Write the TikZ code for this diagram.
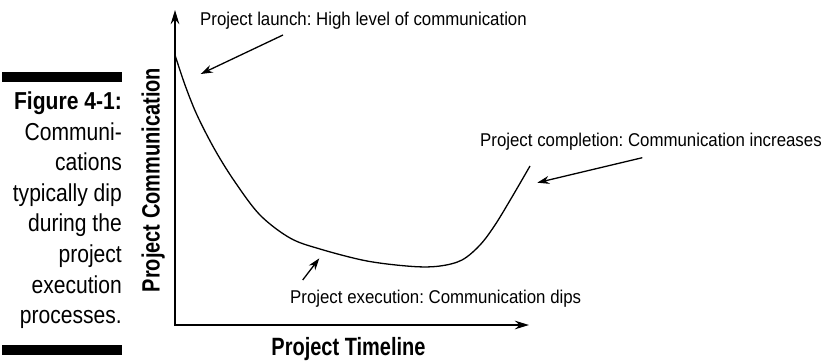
\documentclass[tikz,border=0pt]{standalone}
\usepackage{fontspec}
\setmainfont{Liberation Sans}
\newfontfamily\colfont{Liberation Sans}[FakeStretch=0.86]
\newfontfamily\annfont{Liberation Sans}[FakeStretch=0.91]
\newfontfamily\axfont{Liberation Sans}[FakeStretch=0.80]
\usetikzlibrary{arrows.meta}
\frenchspacing
\begin{document}
\begin{tikzpicture}[x=1pt,y=-1pt,
  axis/.style={line width=2.5pt, line join=miter,
    {Stealth[length=14pt,width=8.5pt]}-{Stealth[length=14pt,width=8.5pt]}},
  curveline/.style={line width=1.3pt},
  pointer/.style={line width=1.3pt, -{Stealth[length=12pt,width=8pt]}},
  coltext/.style={anchor=base east, inner sep=0pt, font=\colfont\fontsize{24.5}{29}\selectfont},
  anntext/.style={anchor=base west, inner sep=0pt, font=\annfont\fontsize{18.5}{22}\selectfont},
  axlabel/.style={anchor=base, inner sep=0pt, font=\axfont\bfseries\fontsize{25}{30}\selectfont},
  bar/.style={fill=black}]
\useasboundingbox (0,0) rectangle (824,362);

% side bars
\fill[bar] (2,72) rectangle (122,82);
\fill[bar] (2,345) rectangle (122,355);

% caption column
\node[coltext] (c1) at (122,109.5) {\bfseries Figure 4-1:};
\node[coltext] (c2) at (122,140.1) {Communi-};
\node[coltext] (c3) at (122,170.7) {cations};
\node[coltext] (c4) at (122,201.3) {typically dip};
\node[coltext] (c5) at (122,231.9) {during the};
\node[coltext] (c6) at (122,262.5) {project};
\node[coltext] (c7) at (122,293.1) {execution};
\node[coltext] (c8) at (122,323.7) {processes.};

% axes
\coordinate (ytop) at (175,10);
\coordinate (origin) at (175,325);
\coordinate (xend) at (529,325);
\draw[axis] (ytop) -- (origin) -- (xend);

\node[axlabel, rotate=90] (ylab) at (159.5,180) {Project Communication};
\node[axlabel] (xlab) at (348.5,355) {Project Timeline};

% curve
\draw[curveline] plot[smooth, tension=0.55] coordinates {
  (175,55) (185,85) (197,115) (215,150) (235,182) (260,215) (290,238)
  (320,249) (367,261) (413,266.5) (440,266) (462,260) (480,245)
  (495,225) (512,197) (530,166)};

% annotations
\node[anntext] (launch) at (200,25) {Project launch: High level of communication};
\node[anntext] (complete) at (480,146) {Project completion: Communication increases};
\node[anntext] (exec) at (290,303) {Project execution: Communication dips};

\coordinate (lt) at (283,35);
\coordinate (lh) at (200.7,74);
\coordinate (ct) at (642.3,157.7);
\coordinate (ch) at (537.3,182.7);
\coordinate (et) at (302.7,280);
\coordinate (eh) at (319.3,258.3);
\draw[pointer] (lt) -- (lh);
\draw[pointer] (ct) -- (ch);
\draw[pointer] (et) -- (eh);
\end{tikzpicture}
\end{document}
